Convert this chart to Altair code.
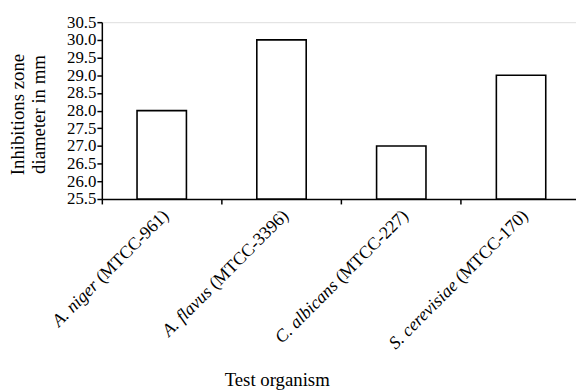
import altair as alt
import pandas as pd

# ---- data ----
species = ["A. niger", "A. flavus", "C. albicans", "S. cerevisiae"]
strains = ["(MTCC-961)", "(MTCC-3396)", "(MTCC-227)", "(MTCC-170)"]
values = [28.0, 30.0, 27.0, 29.0]
y_ticks = [25.5, 26.0, 26.5, 27.0, 27.5, 28.0, 28.5, 29.0, 29.5, 30.0, 30.5]

labels = [f"{s} {t}" for s, t in zip(species, strains)]
df = pd.DataFrame({"organism": labels, "species": species, "strain": strains, "value": values})

FONT = "Liberation Serif, Times New Roman, serif"
LABEL_SIZE = 18

# Times/Liberation Serif advance widths (per 1000 em) for the strain text
_W = {" ": 250, "(": 333, ")": 333, "M": 889, "T": 611, "C": 667, "-": 333}
def text_width(s, size):
    return sum(_W.get(ch, 500) for ch in s) * size / 1000.0

x_scale = alt.Scale(paddingInner=0, paddingOuter=0, range=[0, 485])
x_axis = alt.Axis(labels=False, bandPosition=0, tickSize=5, tickWidth=1.5,
                  tickColor="black", domainColor="black", domainWidth=1.5,
                  title="Test organism", titleFont=FONT, titleFontSize=19,
                  titleFontWeight="normal", titleColor="black",
                  titleX=177, titleY=189, titleAlign="center",
                  titleBaseline="alphabetic")

y_scale = alt.Scale(domain=[25.5, 30.5], nice=False, zero=False)
y_axis = alt.Axis(values=y_ticks, format=".1f", grid=False, tickSize=5, tickWidth=1.5,
                  tickColor="black", domainColor="black", domainWidth=1.5,
                  labelFont=FONT, labelFontSize=17, labelColor="black", labelPadding=1,
                  labelOverlap=False, labelBound=False, labelFlush=False,
                  title=["Inhibitions zone", "diameter in mm"], titleFont=FONT,
                  titleFontSize=19, titleFontWeight="normal", titleColor="black",
                  titleLineHeight=21, titleX=-75, titleY=93, titleAlign="center",
                  titleBaseline="bottom", titleAngle=270)

bars = alt.Chart(df).mark_bar(size=50, fill="white", stroke="black", strokeWidth=1.6).encode(
    x=alt.X("organism:N", sort=labels, scale=x_scale, axis=x_axis),
    y=alt.Y("value:Q", scale=y_scale, axis=y_axis),
    y2=alt.datum(25.5),
)

# normal (strain) part of the rotated labels
strain_text = alt.Chart(df).mark_text(
    angle=315, align="right", baseline="alphabetic", font=FONT, fontSize=LABEL_SIZE,
    color="black", xOffset=8, yOffset=18,
).encode(
    x=alt.X("organism:N", sort=labels, scale=x_scale, axis=x_axis),
    y=alt.Y(datum=25.5, scale=y_scale, axis=y_axis),
    text="strain:N",
)

layers = [bars, strain_text]
for lab, sp, st in zip(labels, species, strains):
    w = text_width(" " + st, LABEL_SIZE)
    layers.append(
        alt.Chart(df).transform_filter(alt.datum.organism == lab).mark_text(
            angle=315, align="right", baseline="alphabetic", font=FONT, fontSize=LABEL_SIZE,
            fontStyle="italic", color="black", xOffset=8, yOffset=18, dx=-w,
        ).encode(
            x=alt.X("organism:N", sort=labels, scale=x_scale, axis=x_axis),
            y=alt.Y(datum=25.5, scale=y_scale, axis=y_axis),
            text="species:N",
        )
    )

chart = alt.layer(*layers).properties(
    width=480, height=179,
    autosize=alt.AutoSizeParams(type="none"),
    padding={"left": 95, "top": 12, "right": 0, "bottom": 191},
).configure_view(stroke=None).configure(background="white", font=FONT)

chart.save("out.html", embed_options={"renderer": "svg", "actions": False})
